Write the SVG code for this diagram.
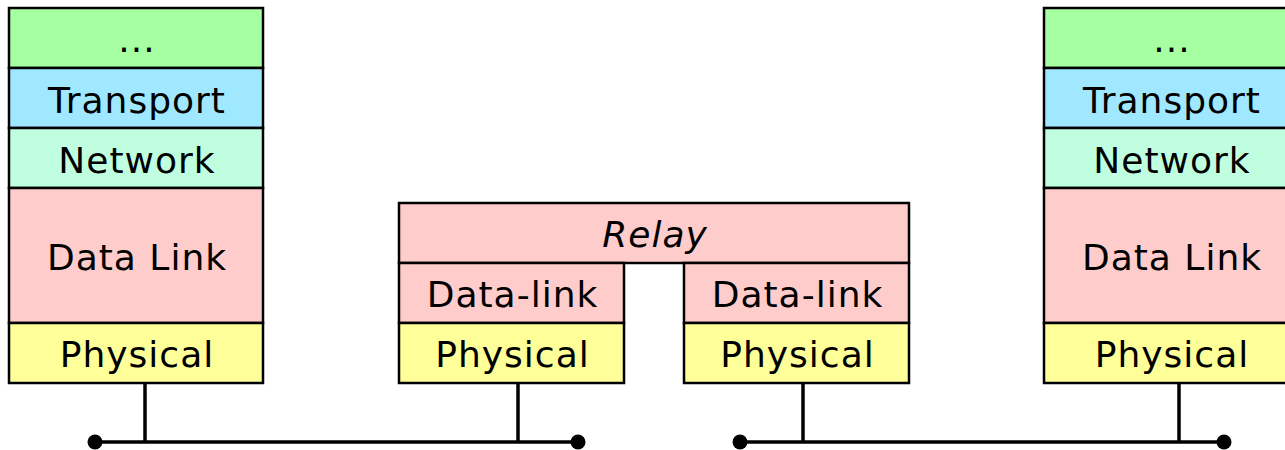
<svg xmlns="http://www.w3.org/2000/svg" width="1285" height="450" viewBox="0 0 1285 450">
<style>
rect{stroke:#000;stroke-width:2.5}
text{font-family:"DejaVu Sans","Verdana",sans-serif;font-size:36px;letter-spacing:1px;text-anchor:middle;fill:#000}
.app{fill:#a6ffa0}.tr{fill:#a0e8ff}.nw{fill:#bfffe0}.dl{fill:#ffcccc}.ph{fill:#ffff99}
.ln{stroke:#000;stroke-width:3.5;fill:none}
</style>
<rect width="1285" height="450" fill="#fff" style="stroke:none"/>
<g id="hostA">
<rect class="app" x="9" y="8" width="254" height="60"/><text x="137" y="52">...</text>
<rect class="tr" x="9" y="68" width="254" height="60"/><text x="137" y="113">Transport</text>
<rect class="nw" x="9" y="128" width="254" height="60"/><text x="137" y="173">Network</text>
<rect class="dl" x="9" y="188" width="254" height="135"/><text x="137" y="270">Data Link</text>
<rect class="ph" x="9" y="323" width="254" height="60"/><text x="137" y="367">Physical</text>
</g>
<g id="relay">
<rect class="dl" x="399" y="203" width="510" height="60"/><text x="655" y="247" font-style="italic">Relay</text>
<rect class="dl" x="399" y="263" width="225" height="60"/><text x="512.5" y="307">Data-link</text>
<rect class="ph" x="399" y="323" width="225" height="60"/><text x="512.5" y="367">Physical</text>
<rect class="dl" x="684" y="263" width="225" height="60"/><text x="797.5" y="307">Data-link</text>
<rect class="ph" x="684" y="323" width="225" height="60"/><text x="797.5" y="367">Physical</text>
</g>
<g id="hostB">
<rect class="app" x="1044" y="8" width="260" height="60"/><text x="1172" y="52">...</text>
<rect class="tr" x="1044" y="68" width="260" height="60"/><text x="1172" y="113">Transport</text>
<rect class="nw" x="1044" y="128" width="260" height="60"/><text x="1172" y="173">Network</text>
<rect class="dl" x="1044" y="188" width="260" height="135"/><text x="1172" y="270">Data Link</text>
<rect class="ph" x="1044" y="323" width="260" height="60"/><text x="1172" y="367">Physical</text>
</g>
<g id="connectors">
<path class="ln" d="M95 442H578M145 383V442M518 383V442"/>
<path class="ln" d="M740 442H1224M803 383V442M1179 383V442"/>
<circle cx="95" cy="442" r="7.5"/><circle cx="578" cy="442" r="7.5"/>
<circle cx="740" cy="442" r="7.5"/><circle cx="1224" cy="442" r="7.5"/>
</g>
</svg>
